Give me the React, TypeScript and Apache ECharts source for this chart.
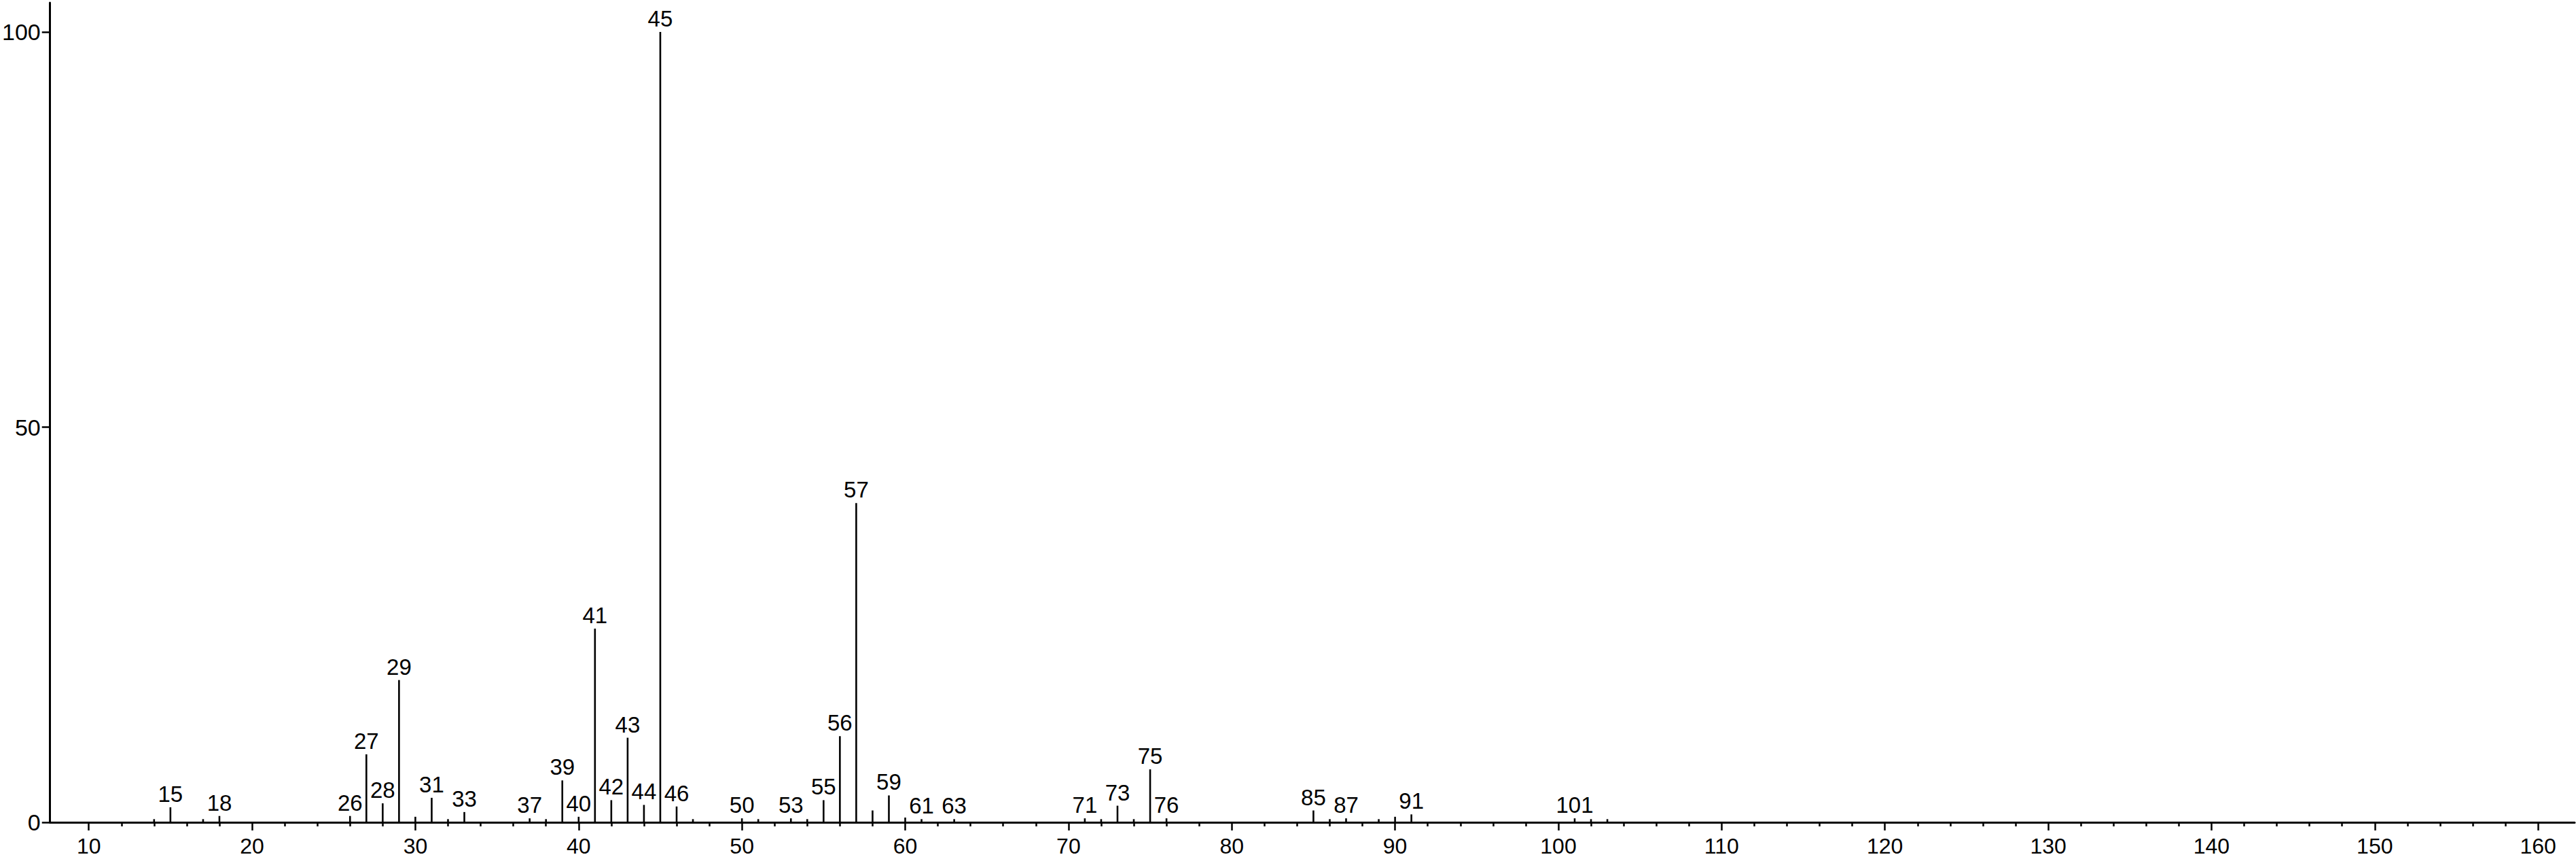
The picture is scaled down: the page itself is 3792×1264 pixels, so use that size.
import React, { useEffect, useRef } from "react";
import * as echarts from "echarts";

// Labeled peaks (m/z, relative intensity)
const labeledMz = [15, 18, 26, 27, 28, 29, 31, 33, 37, 39, 40, 41, 42, 43, 44, 45, 46, 50, 53, 55, 56, 57, 59, 61, 63, 71, 73, 75, 76, 85, 87, 91, 101];
const labeledIntensity = [1.9, 0.8, 0.8, 8.6, 2.4, 18.0, 3.1, 1.3, 0.5, 5.3, 0.7, 24.5, 2.8, 10.7, 2.2, 100, 2.0, 0.5, 0.5, 2.8, 10.9, 40.4, 3.4, 0.4, 0.4, 0.5, 2.1, 6.7, 0.5, 1.5, 0.5, 1.0, 0.5];

// Unlabeled small peaks
const unlabeledMz = [14, 17, 30, 32, 38, 47, 51, 54, 58, 60, 72, 74, 86, 89, 90, 102, 103];
const unlabeledIntensity = [0.4, 0.4, 0.7, 0.4, 0.4, 0.4, 0.4, 0.4, 1.5, 0.6, 0.4, 0.4, 0.4, 0.4, 0.7, 0.4, 0.4];

// Axis ticks
const xMajorTicks = [10, 20, 30, 40, 50, 60, 70, 80, 90, 100, 110, 120, 130, 140, 150, 160];
const xMinorTicks = [12, 14, 16, 18, 22, 24, 26, 28, 32, 34, 36, 38, 42, 44, 46, 48, 52, 54, 56, 58, 62, 64, 66, 68, 72, 74, 76, 78, 82, 84, 86, 88, 92, 94, 96, 98, 102, 104, 106, 108, 112, 114, 116, 118, 122, 124, 126, 128, 132, 134, 136, 138, 142, 144, 146, 148, 152, 154, 156, 158];
const yTicks = [0, 50, 100];

const FONT = "'Liberation Sans', Arial, sans-serif";

export default function App() {
  const ref = useRef<HTMLDivElement>(null);
  useEffect(() => {
    if (!ref.current) return;
    const chart = echarts.init(ref.current, null, { renderer: "svg" });
    const xMin = 7.63;
    const xMax = 162.24;
    chart.setOption({
      animation: false,
      backgroundColor: "#ffffff",
      grid: { left: 69, right: 2, top: 4, bottom: 54, containLabel: false },
      xAxis: [
        {
          type: "value",
          min: xMin,
          max: xMax,
          position: "bottom",
          axisLine: { show: true, onZero: false, lineStyle: { color: "#000", width: 3 } },
          axisTick: { show: true, length: 12, lineStyle: { color: "#000", width: 2.5 }, customValues: xMajorTicks },
          axisLabel: { show: true, customValues: xMajorTicks, color: "#000", fontSize: 32, fontFamily: FONT, margin: 19 },
          splitLine: { show: false },
        },
        {
          type: "value",
          min: xMin,
          max: xMax,
          position: "bottom",
          axisLine: { show: false },
          axisTick: { show: true, length: 6, lineStyle: { color: "#000", width: 2.5 }, customValues: xMinorTicks },
          axisLabel: { show: false },
          splitLine: { show: false },
        },
      ],
      yAxis: {
        type: "value",
        min: 0,
        max: 103.7,
        axisLine: { show: true, lineStyle: { color: "#000", width: 3 } },
        axisTick: { show: true, length: 12, lineStyle: { color: "#000", width: 2.5 }, customValues: yTicks },
        axisLabel: { show: true, customValues: yTicks, color: "#000", fontSize: 34, fontFamily: FONT, margin: 14 },
        splitLine: { show: false },
      },
      series: [
        {
          type: "bar",
          xAxisIndex: 0,
          barWidth: 2.6,
          itemStyle: { color: "#000" },
          label: {
            show: true,
            position: "top",
            distance: 3,
            color: "#000",
            fontSize: 33,
            fontFamily: FONT,
            formatter: (p: any) => String(p.value[0]),
          },
          data: labeledMz.map((m, i) => [m, labeledIntensity[i]]),
        },
        {
          type: "bar",
          xAxisIndex: 0,
          barWidth: 2.6,
          barGap: "-100%",
          itemStyle: { color: "#000" },
          label: { show: false },
          data: unlabeledMz.map((m, i) => [m, unlabeledIntensity[i]]),
        },
      ],
    });
    return () => chart.dispose();
  }, []);
  return (
    <div
      ref={ref}
      style={{ position: "fixed", left: 0, top: 0, width: 3792, height: 1264, background: "#fff" }}
    />
  );
}
